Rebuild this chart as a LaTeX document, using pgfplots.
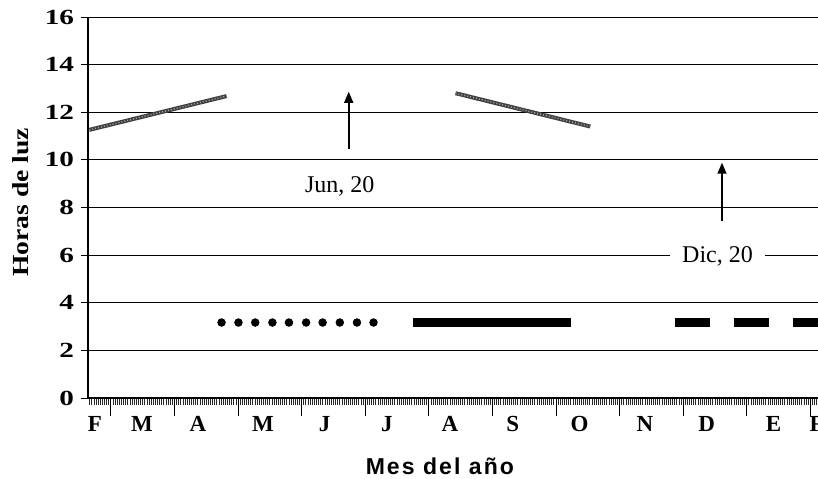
\documentclass[border=0pt]{standalone}
\usepackage{fontspec}
\setmainfont{Liberation Serif}
\setsansfont{Liberation Sans}
\newfontfamily\ytickfont[FakeStretch=1.35]{Liberation Serif}
\newfontfamily\ylabfont[FakeStretch=1.2]{Liberation Serif}
\newfontfamily\xlabfont[LetterSpace=9]{Liberation Sans}
\usepackage{pgfplots}
\pgfplotsset{compat=1.18}
\usetikzlibrary{arrows.meta}

\begin{document}
\begin{tikzpicture}
\begin{axis}[
  name=ax,
  scale only axis,
  width=365pt, height=190.5pt,
  xmin=-0.36, xmax=11.12,
  ymin=0, ymax=16,
  axis x line=bottom, axis y line=left,
  axis line style={-, black, line width=0.7pt},
  ytick={0,2,...,16},
  ymajorgrids,
  major grid style={black, line width=0.5pt},
  tick align=outside,
  major tick length=3.5pt,
  minor tick length=3.6pt,
  tick style={black, line width=0.5pt},
  /pgf/number format/assume math mode=true,
  yticklabel style={font=\ytickfont\bfseries\fontsize{10.8}{12}\selectfont},
  % month letters
  xtick={-0.25,0.49,1.37,2.39,3.36,4.34,5.33,6.32,7.37,8.40,9.37,10.42,11.1},
  xticklabels={F,M,A,M,J,J,A,S,O,N,D,E,F},
  major x tick style={draw=none},
  xticklabel style={font=\bfseries\fontsize{11.5}{13}\selectfont, yshift=-2pt},
  % month boundaries
  extra x ticks={0,1,2,3,4,5,6,7,8,9,10,11},
  extra x tick labels={},
  extra x tick style={major tick length=9pt, grid=none, major x tick style={draw=black}},
  % days
  minor xtick={-0.33333,-0.3,...,11.12},
  minor x tick style={black!85, line width=0.4pt},
  xlabel={Mes del año},
  xlabel style={at={(rel axis cs:0.482,0)}, anchor=center, yshift=-34pt,
    font=\xlabfont\bfseries\fontsize{11.5}{13}\selectfont},
  ylabel={Horas de luz},
  ylabel style={at={(rel axis cs:0,0.514)}, anchor=center, yshift=33.5pt,
    font=\ylabfont\bfseries\fontsize{11.5}{13}\selectfont},
]
% hours of daylight, first stretch
\addplot[black!75, line width=2pt] coordinates {(-0.34,11.26) (1.82,12.68)};
\addplot[black!35, line width=0.7pt, dash pattern=on 0.5pt off 1pt] coordinates {(-0.34,11.26) (1.82,12.68)};
% second stretch
\addplot[black!75, line width=2pt] coordinates {(5.42,12.80) (7.54,11.40)};
\addplot[black!35, line width=0.7pt, dash pattern=on 0.5pt off 1pt] coordinates {(5.42,12.80) (7.54,11.40)};
% solstice arrows
\addplot[black, line width=0.8pt, -{Triangle[length=5.5pt,width=4.5pt]}] coordinates {(3.74,10.46) (3.74,12.86)};
\addplot[black, line width=0.8pt, -{Triangle[length=5.5pt,width=4.5pt]}] coordinates {(9.61,7.45) (9.61,9.88)};
\node[font=\fontsize{12}{14}\selectfont] at (axis cs:3.6,8.90) {Jun, 20};
\node[font=\fontsize{12}{14}\selectfont, fill=white, inner xsep=6pt, inner ysep=1pt] at (axis cs:9.54,5.93) {Dic, 20};
% bottom markers
\addplot[only marks, mark=*, mark size=1.9pt, black] coordinates {
  (1.74,3.17) (2.006,3.17) (2.27,3.17) (2.54,3.17) (2.80,3.17)
  (3.07,3.17) (3.33,3.17) (3.60,3.17) (3.87,3.17) (4.13,3.17)};
\addplot[black, line width=4.4pt] coordinates {(4.75,3.17) (7.24,3.17)};
\addplot[black, line width=4.4pt, dash pattern=on 17.5pt off 12pt] coordinates {(8.865,3.17) (11.12,3.17)};
\end{axis}
\pgfresetboundingbox
\path[use as bounding box] ([shift={(-44pt,-40pt)}]ax.south west) rectangle ([shift={(0pt,8.5pt)}]ax.north east);
\end{tikzpicture}
\end{document}
